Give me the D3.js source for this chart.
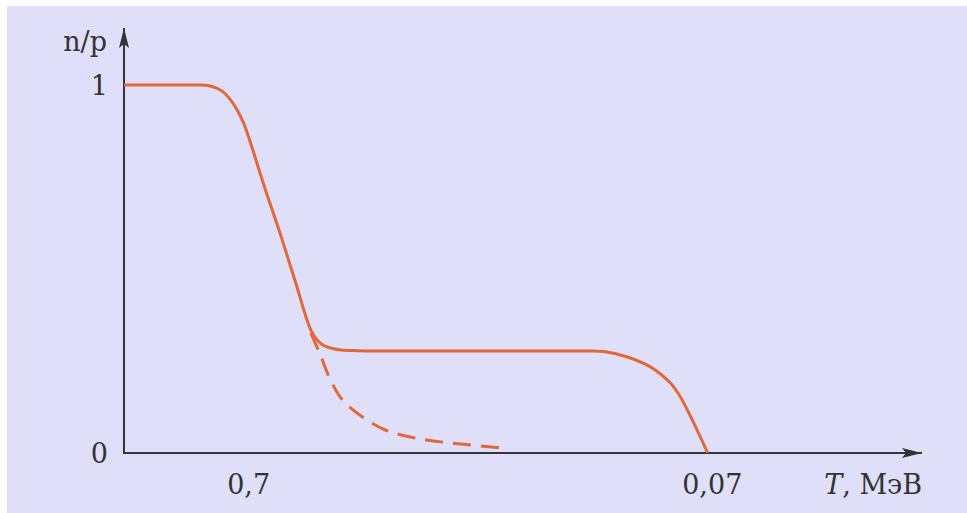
<!DOCTYPE html>
<html>
<head>
<meta charset="utf-8">
<script src="https://cdn.jsdelivr.net/npm/d3@7"></script>
<style>
  body { margin: 0; background: #fff; }
</style>
</head>
<body>
<div id="chart"></div>
<script>
// temperature T (MeV), falls to the right
var tSolid  = [1.30, 0.95, 0.888, 0.840, 0.800, 0.765, 0.741, 0.718, 0.697, 0.647, 0.597, 0.554, 0.514, 0.497, 0.482, 0.461, 0.443, 0.408, 0.364, 0.30, 0.24, 0.18, 0.135, 0.120, 0.1067, 0.0952, 0.0862, 0.0820, 0.0716];
var npSolid = [1.0, 1.0, 1.0, 0.996, 0.984, 0.959, 0.932, 0.897, 0.851, 0.723, 0.592, 0.462, 0.334, 0.306, 0.292, 0.284, 0.280, 0.278, 0.277, 0.277, 0.277, 0.277, 0.277, 0.276, 0.261, 0.234, 0.190, 0.152, 0.0];
var tDash  = [0.514, 0.490, 0.466, 0.439, 0.401, 0.355, 0.298, 0.244, 0.199];
var npDash = [0.326, 0.266, 0.198, 0.144, 0.101, 0.0625, 0.038, 0.0245, 0.0136];
var xTicks = [0.7, 0.07], xTickLabels = ["0,7", "0,07"];
var yTicks = [0, 1], yTickLabels = ["0", "1"];

var W = 967, H = 513;
var font = '"DejaVu Serif", "Liberation Serif", "Noto Serif", serif';
var svg = d3.select('#chart').append('svg').attr('width', W).attr('height', H);

svg.append('rect').attr('x', 7).attr('y', 6).attr('width', W - 7).attr('height', H - 6).attr('fill', '#dfdff9');

var x = d3.scaleLog().domain([1.30, 0.0247]).range([124, 922]);
var y = d3.scaleLinear().domain([0, 1]).range([453, 85]);

var axisColor = '#2f3833';
var defs = svg.append('defs');
defs.append('marker').attr('id', 'arr').attr('viewBox', '0 0 20 10')
  .attr('refX', 20).attr('refY', 5).attr('markerWidth', 20).attr('markerHeight', 10)
  .attr('markerUnits', 'userSpaceOnUse').attr('orient', 'auto')
  .append('path').attr('d', 'M0,0 L20,5 L0,10 L4,5 Z').attr('fill', axisColor);

// axes
svg.append('line').attr('x1', 124).attr('y1', 454).attr('x2', 124).attr('y2', 28)
  .attr('stroke', axisColor).attr('stroke-width', 2).attr('marker-end', 'url(#arr)');
svg.append('line').attr('x1', 123).attr('y1', 453).attr('x2', 922).attr('y2', 453)
  .attr('stroke', axisColor).attr('stroke-width', 2).attr('marker-end', 'url(#arr)');

// curves
var line = d3.line().x(function(d) { return x(d[0]); }).y(function(d) { return y(d[1]); })
  .curve(d3.curveCatmullRom.alpha(0.5));
var orange = '#e2683a';
svg.append('path').datum(tSolid.map(function(t, i) { return [t, npSolid[i]]; }))
  .attr('d', line).attr('fill', 'none').attr('stroke', orange).attr('stroke-width', 3);
svg.append('path').datum(tDash.map(function(t, i) { return [t, npDash[i]]; }))
  .attr('d', line).attr('fill', 'none').attr('stroke', orange).attr('stroke-width', 3)
  .attr('stroke-dasharray', '18,10');

// labels
function txt(sel) { return sel.style('font-family', font).style('font-size', '27px').attr('fill', '#333'); }
txt(svg.selectAll('.xt').data(xTicks).enter().append('text'))
  .attr('x', function(d) { return x(d); }).attr('y', 494)
  .attr('text-anchor', 'middle')
  .text(function(d, i) { return xTickLabels[i]; });
txt(svg.selectAll('.yt').data(yTicks).enter().append('text'))
  .attr('x', 108).attr('y', function(d) { return y(d) + 10; })
  .attr('text-anchor', 'end')
  .text(function(d, i) { return yTickLabels[i]; });

txt(svg.append('text')).attr('x', 107).attr('y', 51).attr('text-anchor', 'end').text('n/p');
var xl = txt(svg.append('text')).attr('x', 922).attr('y', 494).attr('text-anchor', 'end');
xl.append('tspan').style('font-style', 'italic').text('T');
xl.append('tspan').text(', МэВ');
</script>
</body>
</html>
